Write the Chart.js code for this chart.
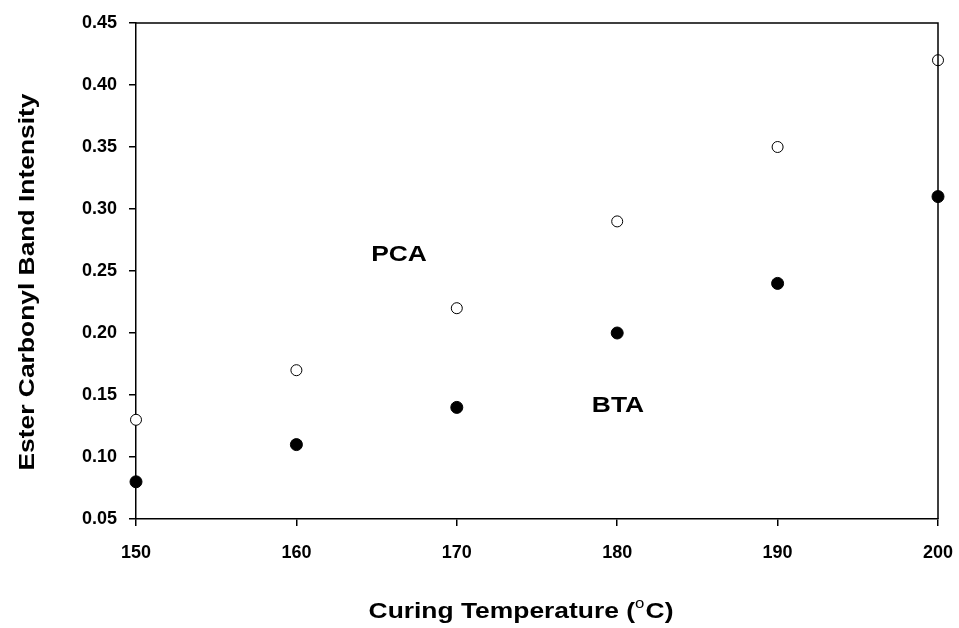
<!DOCTYPE html>
<html>
<head>
<meta charset="utf-8">
<script src="https://cdn.jsdelivr.net/npm/chart.js@4.4.1/dist/chart.umd.min.js"></script>
<style>
  html, body { margin: 0; padding: 0; background: #fff; }
  #wrap { width: 959px; height: 628px; }
</style>
</head>
<body>
<div id="wrap"><canvas id="curing_chart" width="959" height="628"></canvas></div>
<script>
// curing temperature (°C)
const temps = [150, 160, 170, 180, 190, 200];
// ester carbonyl band intensity
const pcaValues = [0.13, 0.17, 0.22, 0.29, 0.35, 0.42];
const btaValues = [0.08, 0.11, 0.14, 0.20, 0.24, 0.31];
const yTicks = [0.05, 0.10, 0.15, 0.20, 0.25, 0.30, 0.35, 0.40, 0.45];
const xTicks = [150, 160, 170, 180, 190, 200];

const FONT = "'Liberation Sans', Arial, sans-serif";
const TITLE_FONT = "bold 22px " + FONT;
const STRETCH = 1.2; // titles are set a bit wide

// series labels placed in data units
const seriesLabels = [
  { text: "PCA", x: 166.4, y: 0.264 },
  { text: "BTA", x: 180.05, y: 0.1423 },
];

const toPoints = (ys) => temps.map((t, i) => ({ x: t, y: ys[i] }));

function wideText(ctx, text, x, y, angle) {
  ctx.save();
  ctx.translate(x, y);
  if (angle) ctx.rotate(angle);
  ctx.scale(STRETCH, 1);
  ctx.fillText(text, 0, 0);
  ctx.restore();
}

// box, axis titles and series labels
const decorations = {
  id: "decorations",
  afterDraw(chart) {
    const ctx = chart.ctx;
    const area = chart.chartArea;
    const xs = chart.scales.x;
    const ys = chart.scales.y;
    ctx.save();
    ctx.strokeStyle = "#000";
    ctx.lineWidth = 1.5;
    ctx.beginPath();
    ctx.moveTo(area.left, area.top);
    ctx.lineTo(area.right, area.top);
    ctx.lineTo(area.right, area.bottom);
    ctx.stroke();

    ctx.fillStyle = "#000";
    ctx.textAlign = "center";
    ctx.textBaseline = "middle";
    ctx.font = TITLE_FONT;
    seriesLabels.forEach((l) => {
      wideText(ctx, l.text, xs.getPixelForValue(l.x), ys.getPixelForValue(l.y) + 1);
    });

    // y title
    wideText(ctx, "Ester Carbonyl Band Intensity", 28, 282, -Math.PI / 2);

    // x title with superscript degree mark
    const a = "Curing Temperature (";
    const b = "o";
    const c = "C)";
    ctx.font = TITLE_FONT;
    const wa = ctx.measureText(a).width;
    const wc = ctx.measureText(c).width;
    ctx.font = "14px " + FONT;
    const wb = ctx.measureText(b).width + 1;
    const total = wa + wb + wc;
    ctx.save();
    ctx.translate(521, 612);
    ctx.scale(STRETCH, 1);
    ctx.textAlign = "left";
    const x0 = -total / 2;
    ctx.font = TITLE_FONT;
    ctx.fillText(a, x0, 0);
    ctx.font = "14px " + FONT;
    ctx.fillText(b, x0 + wa, -8);
    ctx.font = TITLE_FONT;
    ctx.fillText(c, x0 + wa + wb, 0);
    ctx.restore();
    ctx.restore();
  },
};

let context = document.querySelector("#curing_chart").getContext("2d");
new Chart(context, {
  type: "scatter",
  data: {
    datasets: [
      {
        label: "PCA",
        data: toPoints(pcaValues),
        clip: false,
        pointStyle: "circle",
        pointRadius: 5.5,
        pointBackgroundColor: "#fff",
        pointBorderColor: "#000",
        pointBorderWidth: 1,
      },
      {
        label: "BTA",
        data: toPoints(btaValues),
        clip: false,
        pointStyle: "circle",
        pointRadius: 6,
        pointBackgroundColor: "#000",
        pointBorderColor: "#000",
        pointBorderWidth: 1,
      },
    ],
  },
  options: {
    responsive: false,
    animation: false,
    layout: {
      padding: { top: 23, right: 21, left: 0, bottom: 0 },
    },
    scales: {
      x: {
        type: "linear",
        min: 150,
        max: 200,
        afterBuildTicks: (scale) => {
          scale.ticks = xTicks.map((v) => ({ value: v }));
        },
        afterFit: (scale) => {
          scale.height = 109;
          scale.paddingLeft = 0;
          scale.paddingRight = 0;
        },
        grid: {
          drawOnChartArea: false,
          drawTicks: true,
          tickLength: 7,
          color: "#000",
          lineWidth: 1.5,
        },
        border: { color: "#000", width: 1.5 },
        ticks: {
          color: "#000",
          padding: 16,
          maxRotation: 0,
          font: { family: FONT, size: 18, weight: "bold" },
        },
      },
      y: {
        min: 0.05,
        max: 0.45,
        afterBuildTicks: (scale) => {
          scale.ticks = yTicks.map((v) => ({ value: v }));
        },
        afterFit: (scale) => {
          scale.width = 136;
          scale.paddingTop = 0;
          scale.paddingBottom = 0;
        },
        grid: {
          drawOnChartArea: false,
          drawTicks: true,
          tickLength: 7,
          color: "#000",
          lineWidth: 1.5,
        },
        border: { color: "#000", width: 1.5 },
        ticks: {
          color: "#000",
          padding: 12,
          font: { family: FONT, size: 18, weight: "bold" },
          callback: function (value) {
            return value.toFixed(2);
          },
        },
      },
    },
    plugins: {
      legend: { display: false },
      tooltip: { enabled: false },
    },
  },
  plugins: [decorations],
});
</script>
</body>
</html>
